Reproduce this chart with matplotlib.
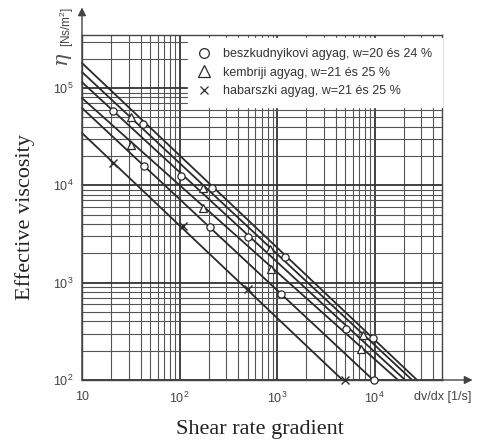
import matplotlib
matplotlib.use('Agg')
import matplotlib.pyplot as plt
from matplotlib.lines import Line2D
from matplotlib.ticker import LogLocator, NullFormatter, FixedLocator, FixedFormatter

plt.rcParams['font.family'] = ['Liberation Sans', 'DejaVu Sans']
plt.rcParams['mathtext.default'] = 'regular'

# ---- data ----
# fitted lines: viscosity at shear rate 10, and shear rate where viscosity reaches 100
line_visc_at_10 = [180700, 146000, 115000, 78900, 62400, 34500]
line_shear_at_100 = [27300, 24300, 20600, 17400, 9700, 4700]

# beszkudnyikovi agyag (circles), three lines
circ1_shear = [42, 214, 1200, 9600]
circ1_visc = [42400, 9300, 1850, 270]
circ2_shear = [21, 103, 508, 5100]
circ2_visc = [58500, 12500, 2920, 334]
circ3_shear = [43.5, 206, 1090, 9900]
circ3_visc = [15800, 3760, 766, 100]

# kembriji agyag (triangles)
tri1_shear = [31.5, 175, 850, 7600]
tri1_visc = [50700, 9500, 2200, 290]
tri2_shear = [32, 175, 860, 7200]
tri2_visc = [25900, 5800, 1380, 207]

# habarszki agyag (crosses)
x_shear = [21, 109, 508, 5000]
x_visc = [16800, 3820, 855, 100]

legend_labels = ['beszkudnyikovi agyag, w=20 és 24 %',
                 'kembriji agyag, w=21 és 25 %',
                 'habarszki agyag, w=21 és 25 %']

x_ticks = [10, 100, 1000, 10000]
x_ticklabels = ['10', '10$^2$', '10$^3$', '10$^4$']
y_ticks = [100, 1000, 10000, 100000]
y_ticklabels = ['10$^2$', '10$^3$', '10$^4$', '10$^5$']

ink = '#2a2a2a'
gridc = '#555555'

fig = plt.figure(figsize=(4.82, 4.44), dpi=100)
ax = fig.add_axes([82/482, (444-380)/444, 360/482, 345/444])
ax.set_xscale('log')
ax.set_yscale('log')
ax.set_xlim(10, 49200)
ax.set_ylim(100, 351000)

# grid
ax.xaxis.set_major_locator(FixedLocator(x_ticks))
ax.xaxis.set_major_formatter(FixedFormatter(x_ticklabels))
ax.yaxis.set_major_locator(FixedLocator(y_ticks))
ax.yaxis.set_major_formatter(FixedFormatter(y_ticklabels))
ax.xaxis.set_minor_locator(LogLocator(base=10, subs=range(2, 10)))
ax.yaxis.set_minor_locator(LogLocator(base=10, subs=range(2, 10)))
ax.xaxis.set_minor_formatter(NullFormatter())
ax.yaxis.set_minor_formatter(NullFormatter())
ax.grid(True, which='major', color='#333333', lw=1.3)
ax.grid(True, which='minor', color=gridc, lw=0.8)
ax.set_axisbelow(True)
ax.tick_params(which='both', length=0, labelsize=9, labelcolor='#444444')
ax.tick_params(axis='x', pad=8)
ax.tick_params(axis='y', pad=6)

for s in ax.spines.values():
    s.set_color('#444444')
    s.set_linewidth(1.0)

# fitted lines
for v10, s100 in zip(line_visc_at_10, line_shear_at_100):
    ax.plot([10, s100], [v10, 100], color=ink, lw=1.3, zorder=3, clip_on=False)

mk = dict(linestyle='none', mfc='white', mec=ink, mew=0.9, zorder=4, clip_on=False)
for xs, ys in [(circ1_shear, circ1_visc), (circ2_shear, circ2_visc), (circ3_shear, circ3_visc)]:
    ax.plot(xs, ys, marker='o', ms=5.2, **mk)
for xs, ys in [(tri1_shear, tri1_visc), (tri2_shear, tri2_visc)]:
    ax.plot(xs, ys, marker='^', ms=5.8, **mk)
ax.plot(x_shear, x_visc, marker='x', ms=6, linestyle='none', color=ink, mew=1.0, zorder=4, clip_on=False)

handles = [Line2D([], [], marker='o', ms=7, linestyle='none', mfc='white', mec=ink, mew=0.9),
           Line2D([], [], marker='^', ms=8, linestyle='none', mfc='white', mec=ink, mew=0.9),
           Line2D([], [], marker='x', ms=6, linestyle='none', color=ink, mew=0.9)]
leg = ax.legend(handles, legend_labels, loc='upper right', bbox_to_anchor=(1.0, 0.99),
                borderaxespad=0, frameon=True, fancybox=False, framealpha=1,
                facecolor='white', edgecolor='white', fontsize=9,
                handlelength=1.0, handletextpad=1.0, labelspacing=0.5,
                borderpad=0.8, labelcolor='#333333')
leg.set_zorder(6)

# axis arrows
ax.annotate('', xy=(1.085, 0), xytext=(0, 0), xycoords='axes fraction',
            arrowprops=dict(arrowstyle='-|>', color='#444444', lw=1.0,
                            mutation_scale=12, shrinkA=0, shrinkB=0))
ax.annotate('', xy=(0, 1.08), xytext=(0, 0), xycoords='axes fraction',
            arrowprops=dict(arrowstyle='-|>', color='#444444', lw=1.0,
                            mutation_scale=12, shrinkA=0, shrinkB=0))

# axis unit labels
fig.text(443/482, 1 - 397/444, 'dv/dx [1/s]', ha='center', va='center',
         fontsize=9, color='#444444')
fig.text(64/482, 1 - 60/444, r'$\eta$', ha='center', va='center',
         rotation=90, fontsize=15, family='DejaVu Serif', style='italic', color='#555555')
fig.text(67/482, 1 - 27/444, '[Ns/m$^2$]', ha='center', va='center',
         rotation=90, fontsize=8.5, color='#444444')

# main titles
fig.text(260/482, 1 - 429/444, 'Shear rate gradient', ha='center', va='center',
         fontsize=16, family='Liberation Serif', color='#222222')
fig.text(25/482, 1 - 217/444, 'Effective viscosity', ha='center', va='center',
         rotation=90, fontsize=16, family='Liberation Serif', color='#222222')

fig.savefig('out.png', dpi=100)
